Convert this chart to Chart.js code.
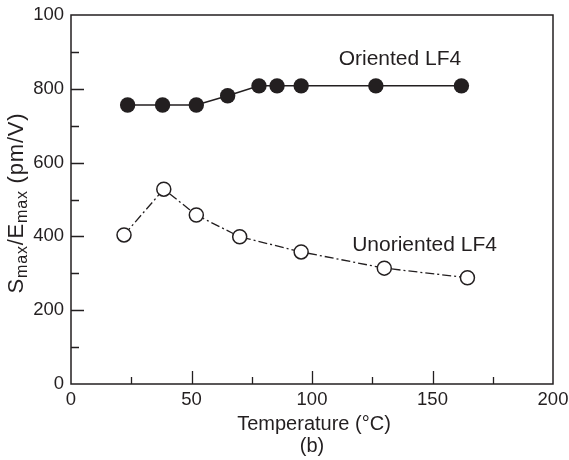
<!DOCTYPE html>
<html>
<head>
<meta charset="utf-8">
<script src="https://cdn.jsdelivr.net/npm/chart.js@4.4.1/dist/chart.umd.min.js"></script>
<style>
html,body{margin:0;padding:0;background:#fff;}
#wrap{width:569px;height:460px;}
</style>
</head>
<body>
<div id="wrap"><canvas id="c" width="569" height="460"></canvas></div>
<script>
// ---- data ----
const orientedT = [23.5, 38, 52, 65, 78, 85.5, 95.5, 126.5, 162];
const orientedS = [756, 756, 756, 781, 808, 808, 808, 808, 808];
const unorientedT = [22, 38.5, 52, 70, 95.5, 130, 164.5];
const unorientedS = [404, 528, 458, 399, 358, 314, 288];
const xTickLabels = ['0', '50', '100', '150', '200'];
const yTickLabels = ['0', '200', '400', '600', '800', '100'];
const seriesNames = ['Oriented LF4', 'Unoriented LF4'];
const xTitle = ['Temperature (°C)', '(b)'];

const INK = '#231f20';
const FONT = '"Liberation Sans", Arial, Helvetica, sans-serif';

function pts(xs, ys) { return xs.map((x, i) => ({x: x, y: ys[i]})); }

const decor = {
  id: 'decor',
  afterDraw(chart) {
    const ctx = chart.ctx, ca = chart.chartArea;
    const xs = chart.scales.x, ys = chart.scales.y;
    ctx.save();
    ctx.strokeStyle = INK;
    ctx.lineWidth = 1.5;
    ctx.strokeRect(ca.left, ca.top, ca.right - ca.left, ca.bottom - ca.top);
    ctx.lineWidth = 1.3;
    ctx.beginPath();
    xs.ticks.forEach(t => {
      const v = t.value;
      if (v <= 0 || v >= 200) return;
      const px = Math.round(xs.getPixelForValue(v)) + 0.5;
      const len = (v % 50 === 0) ? 13 : 7;
      ctx.moveTo(px, ca.bottom); ctx.lineTo(px, ca.bottom - len);
    });
    ys.ticks.forEach(t => {
      const v = t.value;
      if (v <= 0 || v >= 1000) return;
      const py = Math.round(ys.getPixelForValue(v)) + 0.5;
      const len = (v % 200 === 0) ? 13 : 8;
      ctx.moveTo(ca.left, py); ctx.lineTo(ca.left + len, py);
    });
    ctx.stroke();

    ctx.fillStyle = INK;
    ctx.font = '21px ' + FONT;
    ctx.textAlign = 'center';
    ctx.textBaseline = 'middle';
    ctx.fillText(seriesNames[0], xs.getPixelForValue(136.5), ys.getPixelForValue(880));
    ctx.fillText(seriesNames[1], xs.getPixelForValue(146.7), ys.getPixelForValue(377));

    // x title
    const cx = (ca.left + ca.right) / 2;
    ctx.font = '20px ' + FONT;
    ctx.fillText(xTitle[0], cx + 2, 424);
    ctx.fillText(xTitle[1], cx, 446);

    // y title with subscripts
    const mainF = '22px ' + FONT, subF = '16px ' + FONT;
    const parts = [['S', 0], ['max', 1], ['/E', 0], ['max', 1], [' (pm/V)', 0]];
    ctx.letterSpacing = '0.8px';
    let total = 0;
    parts.forEach(p => { ctx.font = p[1] ? subF : mainF; total += ctx.measureText(p[0]).width; });
    ctx.translate(15, 203);
    ctx.rotate(-Math.PI / 2);
    ctx.textAlign = 'left';
    ctx.textBaseline = 'alphabetic';
    let x = -total / 2;
    parts.forEach(p => {
      ctx.font = p[1] ? subF : mainF;
      ctx.fillText(p[0], x, p[1] ? 12 : 8);
      x += ctx.measureText(p[0]).width;
    });
    ctx.restore();
  }
};

new Chart(document.getElementById('c'), {
  type: 'scatter',
  data: {
    datasets: [
      {
        label: seriesNames[0],
        data: pts(orientedT, orientedS),
        showLine: true,
        borderColor: INK,
        borderWidth: 1.5,
        pointRadius: 7.7,
        pointBackgroundColor: INK,
        pointBorderColor: INK,
        pointBorderWidth: 0,
        pointHoverRadius: 7.7
      },
      {
        label: seriesNames[1],
        data: pts(unorientedT, unorientedS),
        showLine: true,
        borderColor: INK,
        borderWidth: 1.3,
        borderDash: [9, 3, 2, 3],
        pointRadius: 7,
        pointBackgroundColor: '#ffffff',
        pointBorderColor: INK,
        pointBorderWidth: 1.5,
        pointHoverRadius: 7
      }
    ]
  },
  options: {
    responsive: false,
    animation: false,
    layout: {padding: {top: 15, right: 16, left: 0, bottom: 0}},
    plugins: {legend: {display: false}, tooltip: {enabled: false}},
    scales: {
      x: {
        type: 'linear', min: 0, max: 200,
        grid: {display: false, drawTicks: false},
        border: {display: false},
        afterFit(s) { s.height = 76; s.paddingLeft = 0; s.paddingRight = 0; },
        ticks: {
          stepSize: 25, autoSkip: false, maxRotation: 0, padding: 5,
          color: INK, font: {family: FONT, size: 18.5},
          callback: v => (v % 50 === 0 ? xTickLabels[v / 50] : '')
        }
      },
      y: {
        type: 'linear', min: 0, max: 1000,
        grid: {display: false, drawTicks: false},
        border: {display: false},
        afterFit(s) { s.width = 71; s.paddingTop = 0; s.paddingBottom = 0; },
        ticks: {
          stepSize: 100, autoSkip: false, padding: 7,
          color: INK, font: {family: FONT, size: 18.5},
          callback: v => (v % 200 === 0 ? yTickLabels[v / 200] : '')
        }
      }
    }
  },
  plugins: [decor]
});
</script>
</body>
</html>
